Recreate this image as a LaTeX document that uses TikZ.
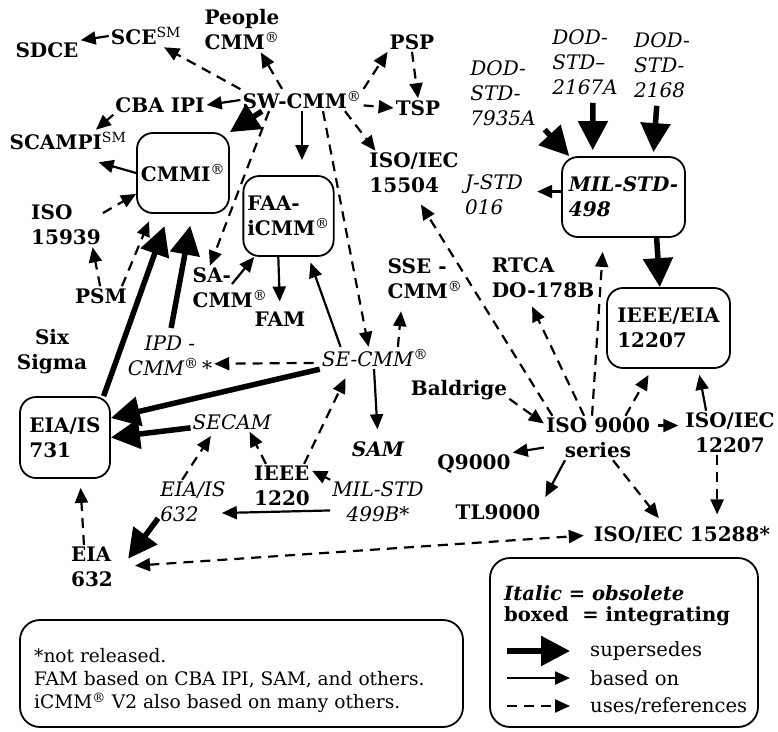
\documentclass[tikz,border=0pt]{standalone}
\usepackage{fontspec}
\setmainfont{DejaVu Serif}
\usepackage{tikz}
\usetikzlibrary{arrows.meta,calc,positioning}
\newcommand{\labsize}{\fontsize{20}{25}\selectfont}
\newcommand{\notesize}{\fontsize{18.6}{23}\selectfont}
\newcommand{\legsize}{\fontsize{19.6}{21}\selectfont}
\newcommand{\regmark}{\textsuperscript{\normalfont\textregistered}}
\newcommand{\smmark}{\textsuperscript{\normalfont SM}}

\begin{document}
\begin{tikzpicture}[x=1pt,y=-1pt,>={Triangle[length=15pt,width=13pt]},
  lab/.style={font=\labsize\bfseries,inner sep=2pt,align=left},
  labc/.style={lab,align=center},
  old/.style={font=\labsize\itshape,inner sep=2pt,align=left},
  oldc/.style={old,align=center},
  oldb/.style={font=\labsize\bfseries\itshape,inner sep=2pt,align=left},
  intbox/.style={draw,line width=1.8pt,rounded corners=16pt,inner sep=4pt},
  notebox/.style={draw,line width=1.8pt,rounded corners=20pt},
  sup/.style={line width=5.5pt,-{Triangle[length=29pt,width=29pt]}},
  base/.style={line width=2.2pt,->},
  ref/.style={base,dash pattern=on 10pt off 7pt}]
  \useasboundingbox (0,0) rectangle (778,731);

  % software side
  \node[lab] (sdce) at (47,50) {SDCE};
  \node[lab] (sce) at (146,36) {SCE\smmark};
  \node[labc] (people) at (242,30) {People\\CMM\regmark};
  \node[lab] (psp) at (412,42) {PSP};
  \node[lab] (tsp) at (418,108) {TSP};
  \node[lab] (sw) at (302,100) {SW-CMM\regmark};
  \node[lab] (cba) at (160,105) {CBA IPI};
  \node[lab] (scampi) at (68,141) {SCAMPI\smmark};
  \node[lab,intbox,minimum width=90pt,minimum height=80pt] (cmmi) at (183,173) {CMMI\regmark};
  \node[lab,intbox,minimum width=89pt,minimum height=80pt] (faa) at (288.5,216) {FAA-\\iCMM\regmark};
  \node[lab] (iso15504) at (414,173) {ISO/IEC\\15504};
  \node[lab] (iso15939) at (66,225) {ISO\\15939};
  \node[lab] (psm) at (101,296) {PSM};
  \node[lab] (sacmm) at (230,288) {SA-\\CMM\regmark};
  \node[lab] (fam) at (280,319) {FAM};
  \node[labc] (six) at (52,352) {Six\\Sigma};
  \node[oldc] (ipd) at (170,356) {IPD -\\CMM\regmark\,*};

  % DoD standards
  \node[old] (dod7935) at (503,93) {DOD-\\STD-\\7935A};
  \node[old] (dod2167) at (585,62) {DOD-\\STD--\\2167A};
  \node[old] (dod2168) at (662,65) {DOD-\\STD-\\2168};
  \node[oldb,intbox,minimum width=123pt,minimum height=80pt] (mil498) at (623.5,197) {MIL-STD-\\498};
  \node[old] (jstd) at (494,195) {J-STD\\016};
  \node[lab] (sse) at (425,279) {SSE -\\CMM\regmark};
  \node[lab] (rtca) at (543,278) {RTCA\\DO-178B};
  \node[lab,intbox,minimum width=123pt,minimum height=80pt] (ieeeeia) at (668.5,328) {IEEE/EIA\\12207};

  % systems side
  \node[old] (secmm) at (375,358) {SE-CMM\regmark};
  \node[lab,intbox,minimum width=90pt,minimum height=81pt] (eia731) at (65,437.5) {EIA/IS\\731};
  \node[old] (secam) at (232,422) {SECAM};
  \node[oldb] (sam) at (378,449) {SAM};
  \node[old] (eiais632) at (193,502) {EIA/IS\\632};
  \node[lab] (ieee1220) at (282,486) {IEEE\\1220};
  \node[oldc] (mil499) at (378,502) {MIL-STD\\499B*};
  \node[lab] (eia632) at (92,567) {EIA\\632};

  % quality standards
  \node[lab] (baldrige) at (459,390) {Baldrige};
  \node[labc] (iso9000) at (598,438) {ISO 9000\\series};
  \node[labc] (iso12207) at (730,433) {ISO/IEC\\12207};
  \node[lab] (q9000) at (474,464) {Q9000};
  \node[lab] (tl9000) at (498,512) {TL9000};
  \node[lab] (iso15288) at (682,535) {ISO/IEC 15288*};

  % SW-CMM relations
  \draw[base] (sce.west) -- (sdce.north east);
  \draw[ref] (sw.170) -- (sce.-32);
  \draw[ref] ($(sw.north)+(-20,0)$) -- (people.-50);
  \draw[ref] (sw.north east) -- (psp.south west);
  \draw[ref] (psp.south) -- (tsp.north);
  \draw[ref] (sw.-5) -- (tsp.west);
  \draw[ref] ($(sw.south)+(43,0)$) -- (iso15504.150);
  \draw[base] (sw.west) -- (cba.east);
  \draw[base] (cba.south west) -- (scampi.22);
  \draw[base] (cmmi.west) -- ($(scampi.south east)+(-30,10)$);
  \draw[sup] ($(sw.south)+(-40,0)$) -- (cmmi.north east);
  \draw[base,shorten >=15pt] (sw.south) -- (sw.south |- faa.north);
  \draw[ref] ($(sw.south)+(-33,0)$) -- (sacmm.132);
  \draw[ref] ($(sw.south)+(21,0)$) -- (secmm.120);

  % into CMMI
  \draw[ref] (iso15939.18) -- (cmmi.-156);
  \draw[ref] (psm.95) -- (iso15939.-40);
  \draw[ref,shorten >=8pt] (psm.25) -- (cmmi.-127);
  \draw[sup,shorten >=13pt] (eia731.47) -- (cmmi.-109);
  \draw[sup,shorten <=6pt,shorten >=12pt] (ipd.north) -- (cmmi.-77);

  % FAA-iCMM
  \draw[base] ($(sacmm.center)+(2,-4)$) -- (faa.-130);
  \draw[base,shorten >=8pt] (faa.-104) -- (fam.north);
  \draw[base,shorten >=6pt] (secmm.162) -- (faa.-64);

  % SE-CMM and systems standards
  \draw[ref,shorten >=10pt] (secmm.26) -- (sse.-136);
  \draw[ref,shorten <=6pt] (secmm.185) -- (ipd.-10);
  \draw[sup] (secmm.south west) -- (eia731.23);
  \draw[sup] (secam.-172) -- (eia731.east);
  \draw[base,shorten >=10pt] (secmm.-95) -- (sam.north);
  \draw[ref,shorten >=10pt] (ieee1220.45) -- (secmm.-156);
  \draw[ref] (ieee1220.126) -- (secam.-29);
  \draw[ref,shorten >=5pt] (eiais632.116) -- (secam.-152);
  \draw[base] (mil499.155) -- (ieee1220.27);
  \draw[base] (mil499.-170) -- ($(eiais632.east)+(-6,11)$);
  \draw[sup,shorten >=22pt] (eiais632.-155) -- (eia632.-22);
  \draw[ref,shorten >=9pt] (eia632.110) -- (eia731.-70);
  \draw[ref,<->,shorten <=20pt,shorten >=8pt] (eia632.east) -- (iso15288.west);

  % ISO 9000 relations
  \draw[ref,shorten >=8pt] (iso9000.-56) -- (iso15288.150);
  \draw[ref,shorten >=10pt] (iso12207.-120) -- (iso12207.-120 |- iso15288.north);
  \draw[base,shorten >=6pt] (iso12207.137) -- (ieeeeia.-54);
  \draw[ref,shorten >=7pt] (iso9000.39) -- (ieeeeia.-112);
  \draw[base,shorten <=6pt,shorten >=5pt] (iso9000.13) -- (iso9000.13 -| iso12207.west);
  \draw[base] (iso9000.-170) -- (q9000.north east);
  \draw[base,shorten >=6pt] (iso9000.-146) -- (tl9000.north east);
  \draw[ref] (baldrige.-10) -- (iso9000.165);
  \draw[ref,shorten >=7pt] (iso9000.122) -- (rtca.-122);
  \draw[ref,shorten >=14pt] (iso9000.105) -- (mil498.-116);
  \draw[ref,shorten >=11pt] (iso9000.154) -- (iso15504.-87);

  % MIL-STD-498
  \draw[sup] (mil498.-51) -- (ieeeeia.102);
  \draw[sup,shorten <=10pt] (dod7935.-40) -- (mil498.143);
  \draw[sup,shorten <=6pt,shorten >=6pt] (dod2167.-77) -- (mil498.127);
  \draw[sup,shorten <=6pt,shorten >=4pt] (dod2168.-98) -- (mil498.54);
  \draw[base,shorten >=12pt] (mil498.175) -- (mil498.175 -| jstd.east);

  % notes
  \node[notebox,minimum width=443pt,minimum height=107pt] (notes) at (241.5,673.5) {};
  \node[font=\notesize,align=left,anchor=north west,inner sep=0pt] (notetxt) at (34,648)
    {*not released.\\FAM based on CBA IPI, SAM, and others.\\iCMM\regmark{} V2 also based on many others.};

  % legend
  \node[notebox,minimum width=268pt,minimum height=169pt] (legend) at (624,642.5) {};
  \node[font=\legsize\bfseries,align=left,anchor=north west,inner sep=0pt] (legkey) at (504,585)
    {\textit{Italic = obsolete}\\boxed~~= integrating};
  \node[font=\legsize,anchor=west,inner sep=0pt] (lsup) at (590,651) {supersedes};
  \node[font=\legsize,anchor=west,inner sep=0pt] (lbase) at (590,678) {based on};
  \node[font=\legsize,anchor=west,inner sep=0pt] (lref) at (590,706) {uses/references};
  \draw[sup] ($(lsup.west)+(-83,0)$) -- ($(lsup.west)+(-20,0)$);
  \draw[base] ($(lbase.west)+(-83,0)$) -- ($(lbase.west)+(-20,0)$);
  \draw[ref] ($(lref.west)+(-83,0)$) -- ($(lref.west)+(-20,0)$);
\end{tikzpicture}
\end{document}
